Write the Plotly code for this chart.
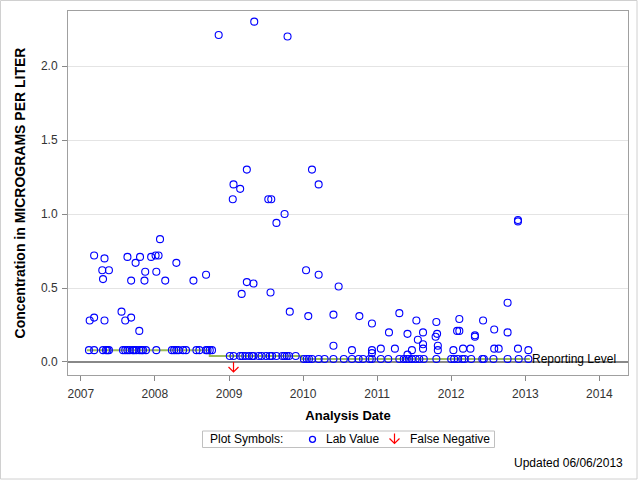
import plotly.graph_objects as go
from datetime import datetime

# ── DATA (decimal years, micrograms per liter) ───────────────────────────────

lab_year = [
    # high values 2008-2010, 2012
    2008.86, 2009.34, 2009.79, 2009.24, 2010.12, 2009.06, 2009.15, 2010.21,
    2009.05, 2009.53, 2009.57, 2009.75, 2009.64, 2012.90, 2012.90,
    # 2007-2008 mid values
    2007.18, 2007.32, 2007.29, 2007.38, 2007.30, 2007.63, 2007.80, 2007.74,
    2007.68, 2007.87, 2007.86, 2007.95, 2008.01, 2008.05, 2008.07, 2008.02,
    2008.14, 2008.29, 2008.52, 2008.69,
    # 2009-2010 mid values
    2009.17, 2009.24, 2009.33, 2009.56, 2009.82, 2010.04, 2010.21, 2010.48,
    2010.07, 2010.41, 2010.41,
    # 2007 low values
    2007.12, 2007.18, 2007.32, 2007.55, 2007.60, 2007.68, 2007.79,
    # 2010-2013 low values
    2010.66, 2010.76, 2010.93, 2010.93, 2010.93, 2011.05, 2011.16, 2011.24,
    2011.30, 2011.41, 2011.41, 2011.47, 2011.53, 2011.55, 2011.62, 2011.62,
    2011.62, 2011.80, 2011.81, 2011.79, 2011.82, 2011.82, 2012.76, 2012.11,
    2012.43, 2012.08, 2012.11, 2012.58, 2012.76, 2012.32, 2012.32, 2012.03,
    2012.16, 2012.26, 2012.58, 2012.64, 2012.90, 2013.04,
    # at reporting level 0.08
    2007.11, 2007.18, 2007.30, 2007.34, 2007.36, 2007.38, 2007.57, 2007.60,
    2007.63, 2007.66, 2007.70, 2007.72, 2007.75, 2007.79, 2007.82, 2007.84,
    2007.88, 2008.02, 2008.23, 2008.26, 2008.29, 2008.32, 2008.38, 2008.42,
    2008.56, 2008.60, 2008.69, 2008.71, 2008.74, 2008.77,
    # at reporting level 0.04
    2009.01, 2009.06, 2009.15, 2009.18, 2009.22, 2009.27, 2009.31, 2009.33,
    2009.40, 2009.44, 2009.50, 2009.55, 2009.58, 2009.64, 2009.72, 2009.75,
    2009.78, 2009.81, 2009.90,
    # at reporting level 0.02
    2010.01, 2010.05, 2010.08, 2010.12, 2010.21, 2010.29, 2010.41, 2010.55,
    2010.66, 2010.75, 2010.81, 2010.90, 2010.93, 2011.05, 2011.15, 2011.30,
    2011.36, 2011.40, 2011.43, 2011.47, 2011.52, 2011.57, 2011.63, 2011.80,
    2012.00, 2012.04, 2012.09, 2012.15, 2012.18, 2012.27, 2012.42, 2012.44,
    2012.57, 2012.76, 2012.91, 2013.04,
]

lab_conc = [
    2.21, 2.30, 2.20, 1.30, 1.30, 1.20, 1.17, 1.20,
    1.10, 1.10, 1.10, 1.00, 0.94, 0.96, 0.95,
    0.72, 0.70, 0.62, 0.62, 0.56, 0.71, 0.71, 0.67,
    0.55, 0.61, 0.55, 0.71, 0.72, 0.72, 0.83, 0.61,
    0.55, 0.67, 0.55, 0.59,
    0.46, 0.54, 0.53, 0.47, 0.34, 0.62, 0.59, 0.51,
    0.31, 0.32, 0.11,
    0.28, 0.30, 0.28, 0.34, 0.28, 0.30, 0.21,
    0.08, 0.31, 0.26, 0.08, 0.06, 0.09, 0.20, 0.09,
    0.33, 0.19, 0.05, 0.08, 0.28, 0.15, 0.20, 0.12,
    0.09, 0.27, 0.19, 0.17, 0.11, 0.08, 0.40, 0.29,
    0.28, 0.21, 0.21, 0.22, 0.20, 0.18, 0.17, 0.08,
    0.09, 0.09, 0.09, 0.09, 0.09, 0.08,
    0.08, 0.08, 0.08, 0.08, 0.08, 0.08, 0.08, 0.08,
    0.08, 0.08, 0.08, 0.08, 0.08, 0.08, 0.08, 0.08,
    0.08, 0.08, 0.08, 0.08, 0.08, 0.08, 0.08, 0.08,
    0.08, 0.08, 0.08, 0.08, 0.08, 0.08,
    0.04, 0.04, 0.04, 0.04, 0.04, 0.04, 0.04, 0.04,
    0.04, 0.04, 0.04, 0.04, 0.04, 0.04, 0.04, 0.04,
    0.04, 0.04, 0.04,
    0.02, 0.02, 0.02, 0.02, 0.02, 0.02, 0.02, 0.02,
    0.02, 0.02, 0.02, 0.02, 0.02, 0.02, 0.02, 0.02,
    0.02, 0.02, 0.02, 0.02, 0.02, 0.02, 0.02, 0.02,
    0.02, 0.02, 0.02, 0.02, 0.02, 0.02, 0.02, 0.02,
    0.02, 0.02, 0.02, 0.02,
]
assert len(lab_year) == len(lab_conc)

false_neg_year = [2009.06]
false_neg_conc = [0.0]

# reporting level steps
rl_year = [2007.08, 2008.74, 2009.98, 2013.06]
rl_conc = [0.08, 0.04, 0.02, 0.02]

FONT = 'Liberation Sans, Arial, sans-serif'
PLOT_L, PLOT_R, PLOT_T, PLOT_B = 68, 628, 11, 375
RED = '#ff0000'
BLUE = '#0000ff'

# open "V" arrow, pixels relative to its anchor (y up)
ARROW_PATH = 'M0,0 L0,-10 M-5,-5 L0,-10 L5,-5'


def yr2date(y):
    year = int(y)
    start = datetime(year, 1, 1)
    end = datetime(year + 1, 1, 1)
    return start + (end - start) * (y - year)


def px2paper(px, py):
    return ((px - PLOT_L) / (PLOT_R - PLOT_L),
            (PLOT_B - py) / (PLOT_B - PLOT_T))


fig = go.Figure()

fig.add_trace(go.Scatter(
    x=[yr2date(v) for v in rl_year], y=rl_conc, mode='lines',
    line=dict(color='#9bbb59', width=2, shape='hv'),
    hoverinfo='skip', showlegend=False))

fig.add_trace(go.Scatter(
    x=[yr2date(v) for v in lab_year], y=lab_conc, mode='markers',
    marker=dict(symbol='circle-open', size=7, color=BLUE,
                line=dict(width=1.1, color=BLUE)),
    name='Lab Value', showlegend=False))

fig.add_annotation(
    x=yr2date(rl_year[-1]), y=rl_conc[-1], text='Reporting Level',
    showarrow=False, xanchor='left', yanchor='middle', xshift=0,
    font=dict(size=12, color='black', family=FONT))

shapes = []
# false negatives: red arrows anchored on the data point
for fy, fc in zip(false_neg_year, false_neg_conc):
    shapes.append(dict(type='path', xref='x', yref='y',
                       xsizemode='pixel', ysizemode='pixel',
                       xanchor=yr2date(fy), yanchor=fc, path=ARROW_PATH,
                       line=dict(color=RED, width=1.2)))

# ── legend box (manual) ──────────────────────────────────────────────────────
x0, y0 = px2paper(202.5, 447.5)
x1, y1 = px2paper(494.5, 431.0)
shapes.append(dict(type='rect', xref='paper', yref='paper', x0=x0, x1=x1,
                   y0=y0, y1=y1, line=dict(color='#c0c0c0', width=1)))
# outer frame
fx0, fy0 = px2paper(0.5, 479.0)
fx1, fy1 = px2paper(637.0, 0.5)
shapes.append(dict(type='rect', xref='paper', yref='paper', x0=fx0, x1=fx1,
                   y0=fy0, y1=fy1, line=dict(color='#d0d0d0', width=1)))
cx, cy = px2paper(312.5, 439.3)
shapes.append(dict(type='circle', xref='paper', yref='paper',
                   xsizemode='pixel', ysizemode='pixel', xanchor=cx, yanchor=cy,
                   x0=-3.0, x1=3.0, y0=-3.0, y1=3.0,
                   line=dict(color=BLUE, width=1.3)))
ax, ay = px2paper(394.5, 433.5)
shapes.append(dict(type='path', xref='paper', yref='paper',
                   xsizemode='pixel', ysizemode='pixel', xanchor=ax, yanchor=ay,
                   path=ARROW_PATH, line=dict(color=RED, width=1.2)))

leg_y = px2paper(0, 439.3)[1]
for px, txt in [(207.5, 'Plot Symbols:'), (323.5, 'Lab Value'),
                (407.5, 'False Negative')]:
    fig.add_annotation(x=px2paper(px, 0)[0], y=leg_y, xref='paper', yref='paper',
                       text=txt, showarrow=False, xanchor='left', yanchor='middle',
                       font=dict(size=12, color='black', family=FONT))

ux, uy = px2paper(625, 462.7)
fig.add_annotation(x=ux, y=uy, xref='paper', yref='paper',
                   text='Updated 06/06/2013', showarrow=False,
                   xanchor='right', yanchor='middle',
                   font=dict(size=12, color='black', family=FONT))

fig.update_layout(
    width=640, height=480,
    margin=dict(l=PLOT_L, r=640 - PLOT_R, t=PLOT_T, b=480 - PLOT_B,
                autoexpand=False),
    paper_bgcolor='white', plot_bgcolor='white',
    font=dict(family=FONT, size=12, color='#333333'),
    shapes=shapes, showlegend=False,
)

fig.update_xaxes(
    type='date', range=[yr2date(2006.827), yr2date(2014.386)],
    tick0='2007-01-01', dtick='M12', tickformat='%Y',
    ticks='outside', ticklen=5, tickcolor='#888888',
    showline=True, linecolor='#a0a0a0', linewidth=1, mirror=True,
    showgrid=False, zeroline=False, automargin=False,
    ticklabelstandoff=3,
    tickfont=dict(size=12, color='#333333'),
    title=dict(text='<b>Analysis Date</b>', standoff=10,
               font=dict(size=13, color='black')),
)
fig.update_yaxes(
    range=[-0.088, 2.372], tick0=0, dtick=0.5, tickformat='.1f',
    ticks='outside', ticklen=5, tickcolor='#888888',
    showline=True, linecolor='#a0a0a0', linewidth=1, mirror=True,
    showgrid=True, gridcolor='#e4e4e4', gridwidth=1,
    zeroline=True, zerolinecolor='#888888', zerolinewidth=2,
    automargin=False, ticklabelstandoff=2,
    tickfont=dict(size=12, color='#333333'),
    title=dict(text='<b>Concentration in MICROGRAMS PER LITER</b>', standoff=12,
               font=dict(size=14, color='black')),
)

fig.write_html('out.html', config={'displayModeBar': False},
               post_script="document.body.style.margin='0';")
